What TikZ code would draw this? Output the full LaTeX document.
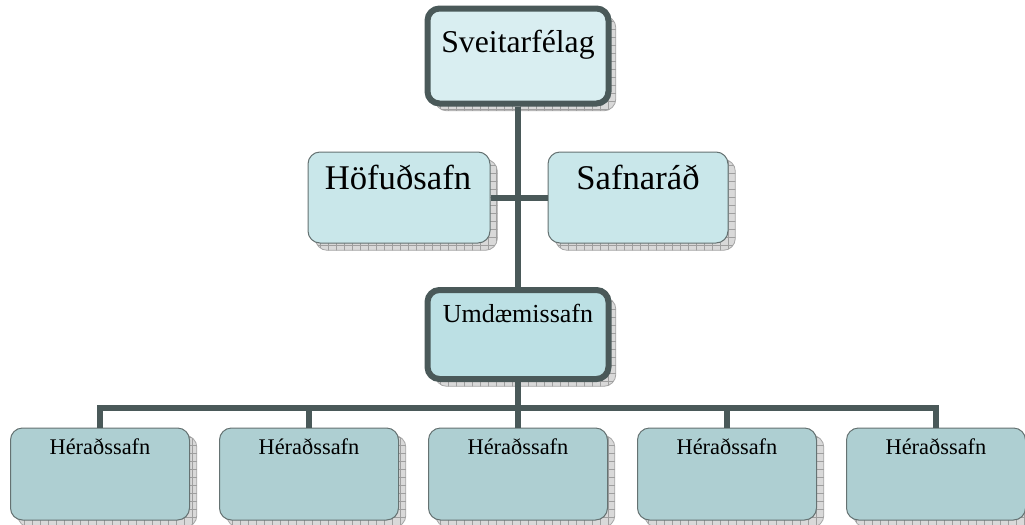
\documentclass[tikz,border=0pt]{standalone}
\usepackage{fontspec}
\setmainfont{Liberation Serif}
\usetikzlibrary{shadows,patterns.meta}
\definecolor{dk}{HTML}{4A5959}
\definecolor{fA}{HTML}{D9EEF1}
\definecolor{fB}{HTML}{C9E7EA}
\definecolor{fC}{HTML}{BCE0E4}
\definecolor{fD}{HTML}{AECFD2}
\tikzdeclarepattern{
  name=mygrid,
  type=uncolored,
  bottom left={(-.1pt,-.1pt)},
  top right={(6.1pt,6.1pt)},
  tile size={(6pt,6pt)},
  code={\draw[line width=.5pt] (0pt,0pt) -- (6pt,0pt) (0pt,0pt) -- (0pt,6pt);}
}
\tikzset{
  box/.style={rectangle, rounded corners=9pt, inner sep=0pt,
    general shadow={shadow xshift=5.5pt, shadow yshift=-5.5pt, fill=gray!30, draw=gray!70, line width=.6pt},
    general shadow={shadow xshift=5.5pt, shadow yshift=-5.5pt, pattern=mygrid, pattern color=gray!75}},
  thickbox/.style={box, draw=dk, line width=4.5pt},
  thinbox/.style={box, draw=dk!85, line width=.75pt},
  conn/.style={draw=dk, line width=4.5pt, line join=miter},
  lbl/.style={inner sep=0pt, anchor=base, text=black}
}
\begin{document}
\begin{tikzpicture}[x=0.75pt, y=-0.75pt]
\useasboundingbox (0,0) rectangle (1025,525);
% boxes
\node[thickbox, fill=fA, minimum width={181*0.75pt}, minimum height={95*0.75pt}] (sv) at (518,56) {};
\node[thinbox, fill=fB, minimum width={182*0.75pt}, minimum height={91*0.75pt}] (hof) at (399,197.5) {};
\node[thinbox, fill=fB, minimum width={180*0.75pt}, minimum height={91*0.75pt}] (saf) at (638,197.5) {};
\node[thickbox, fill=fC, minimum width={181*0.75pt}, minimum height={89*0.75pt}] (um) at (518,334.5) {};
\foreach \i/\x in {1/100,2/309,3/518,4/727,5/936}{
  \node[thinbox, fill=fD, minimum width={179*0.75pt}, minimum height={92*0.75pt}] (h\i) at (\x,474) {};
}
% connectors
\coordinate (bus) at (518,407.5);
\draw[conn] (sv.south) -- (um.north);
\draw[conn] (hof.east) -- (saf.west);
\foreach \i in {1,...,5}{
  \draw[conn] (um.south) -- (bus) -| (h\i.north);
}
% labels
\node[lbl, font=\fontsize{23.8}{28}\selectfont] (tsv) at (518,52) {Sveitarfélag};
\node[lbl, font=\fontsize{26}{30}\selectfont] (thof) at (398,189) {Höfuðsafn};
\node[lbl, font=\fontsize{26}{30}\selectfont] (tsaf) at (638,189) {Safnaráð};
\node[lbl, font=\fontsize{19.5}{23}\selectfont] (tum) at (518,322) {Umdæmissafn};
\foreach \i/\x in {1/100,2/309,3/518,4/727,5/936}{
  \node[lbl, font=\fontsize{16.8}{20}\selectfont] (th\i) at (\x,454) {Héraðssafn};
}
\end{tikzpicture}
\end{document}
